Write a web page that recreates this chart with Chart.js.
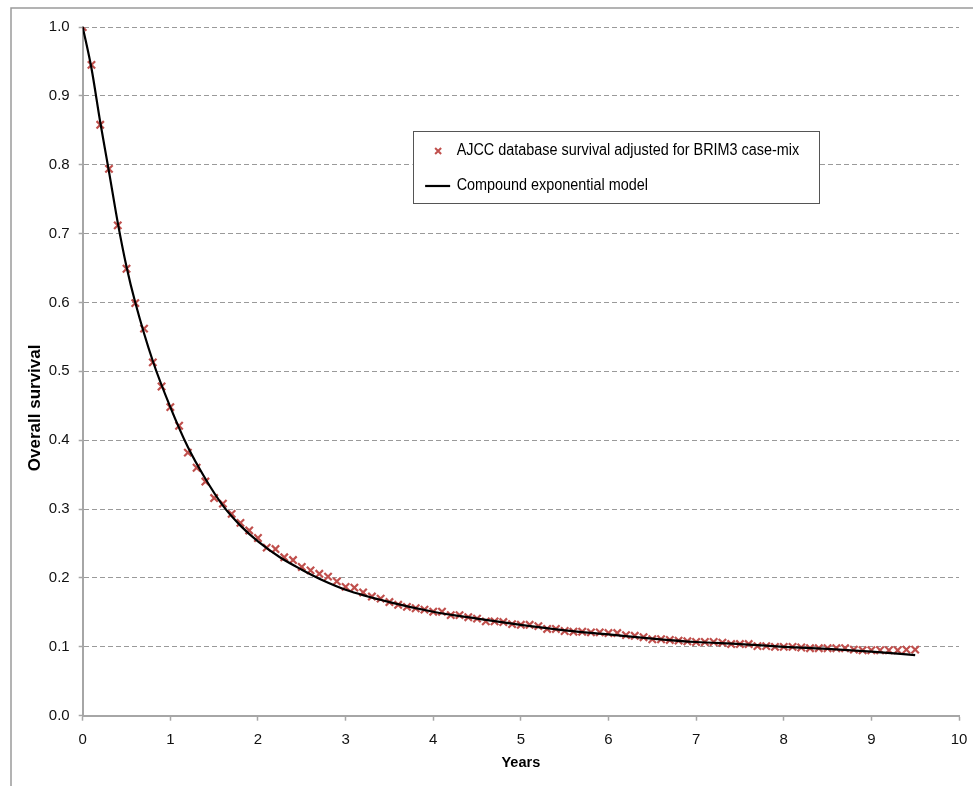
<!DOCTYPE html>
<html>
<head>
<meta charset="utf-8">
<script src="https://cdn.jsdelivr.net/npm/chart.js@4"></script>
<style>
  html, body { margin: 0; padding: 0; background: #fff; }
  #wrap { position: relative; width: 973px; height: 786px; }
</style>
</head>
<body>
<div id="wrap"><canvas id="c" width="973" height="786"></canvas></div>
<script>
// ---- data ----
const years = [0.0,0.1,0.2,0.3,0.4,0.5,0.6,0.7,0.8,0.9,
  1.0,1.1,1.2,1.3,1.4,1.5,1.6,1.7,1.8,1.9,
  2.0,2.1,2.2,2.3,2.4,2.5,2.6,2.7,2.8,2.9,
  3.0,3.1,3.2,3.3,3.4,3.5,3.6,3.7,3.8,3.9,
  4.0,4.1,4.2,4.3,4.4,4.5,4.6,4.7,4.8,4.9,
  5.0,5.1,5.2,5.3,5.4,5.5,5.6,5.7,5.8,5.9,
  6.0,6.1,6.2,6.3,6.4,6.5,6.6,6.7,6.8,6.9,
  7.0,7.1,7.2,7.3,7.4,7.5,7.6,7.7,7.8,7.9,
  8.0,8.1,8.2,8.3,8.4,8.5,8.6,8.7,8.8,8.9,
  9.0,9.1,9.2,9.3,9.4,9.5];
const ajccSurvival = [1.000,0.945,0.858,0.794,0.712,0.649,0.599,0.562,0.513,0.478,
  0.448,0.421,0.382,0.360,0.340,0.316,0.308,0.293,0.280,0.269,
  0.258,0.244,0.242,0.230,0.226,0.216,0.211,0.206,0.202,0.195,
  0.187,0.186,0.179,0.173,0.170,0.165,0.161,0.158,0.156,0.154,
  0.151,0.151,0.146,0.146,0.143,0.141,0.137,0.137,0.136,0.133,
  0.132,0.132,0.130,0.126,0.126,0.123,0.122,0.122,0.121,0.121,
  0.120,0.120,0.117,0.116,0.114,0.111,0.111,0.110,0.109,0.108,
  0.107,0.107,0.107,0.106,0.104,0.104,0.104,0.101,0.101,0.100,
  0.100,0.100,0.099,0.098,0.098,0.098,0.098,0.098,0.096,0.095,
  0.095,0.095,0.095,0.095,0.096,0.096];
const modelYears = [0,0.1,0.2,0.3,0.4,0.5,0.6,0.8,1.0,1.2,1.4,1.6,1.8,2.0,2.25,2.5,2.75,3.0,3.5,4.0,4.5,5.0,5.5,6.0,6.5,7.0,7.5,8.0,8.5,9.0,9.5];
const modelSurvival = [1.0,0.94,0.862,0.79,0.716,0.652,0.600,0.515,0.448,0.390,0.344,0.305,0.276,0.253,0.230,0.212,0.196,0.183,0.165,0.151,0.141,0.132,0.124,0.118,0.112,0.107,0.104,0.100,0.097,0.093,0.088];
const seriesNames = ['AJCC database survival adjusted for BRIM3 case-mix', 'Compound exponential model'];
const yTickValues = [0,0.1,0.2,0.3,0.4,0.5,0.6,0.7,0.8,0.9,1.0];
const xTitle = 'Years';
const yTitle = 'Overall survival';

// ---- styles ----
const markerColor = '#c0504d';
const axisGray = '#a6a6a6';
const gridGray = '#9a9a9a';
const FONT = '"Liberation Sans", Arial, sans-serif';

const pairs = (xs, ys) => xs.map((x, i) => ({ x: x, y: ys[i] }));

const framePlugin = {
  id: 'frame',
  beforeDraw(chart) {
    const ctx = chart.ctx;
    ctx.save();
    ctx.strokeStyle = '#9a9a9a';
    ctx.lineWidth = 1.5;
    ctx.beginPath();
    ctx.moveTo(11, chart.height);
    ctx.lineTo(11, 8);
    ctx.lineTo(chart.width, 8);
    ctx.stroke();
    ctx.restore();
  }
};

const yTitlePlugin = {
  id: 'yTitle',
  afterDraw(chart) {
    const ctx = chart.ctx, a = chart.chartArea;
    ctx.save();
    ctx.translate(35, a.top + 0.553 * (a.bottom - a.top));
    ctx.rotate(-Math.PI / 2);
    ctx.font = 'bold 17px ' + FONT;
    ctx.fillStyle = '#000';
    ctx.textAlign = 'center';
    ctx.textBaseline = 'middle';
    ctx.fillText(yTitle, 0, 0);
    ctx.restore();
  }
};

const legendPlugin = {
  id: 'boxLegend',
  afterDraw(chart) {
    const ctx = chart.ctx, a = chart.chartArea;
    const w = a.right - a.left, h = a.bottom - a.top;
    const L = a.left + 0.3765 * w, R = a.left + 0.840 * w;
    const T = a.top + 0.151 * h, B = a.top + 0.2555 * h;
    ctx.save();
    ctx.fillStyle = '#fff';
    ctx.fillRect(L, T, R - L, B - T);
    ctx.strokeStyle = '#555';
    ctx.lineWidth = 1;
    ctx.strokeRect(Math.round(L) + 0.5, Math.round(T) + 0.5, Math.round(R - L), Math.round(B - T));
    const y1 = T + 20, y2 = T + 55;
    // marker
    ctx.strokeStyle = markerColor;
    ctx.lineWidth = 2;
    const mx = L + 25.5, r = 3;
    ctx.beginPath();
    ctx.moveTo(mx - r, y1 - r); ctx.lineTo(mx + r, y1 + r);
    ctx.moveTo(mx + r, y1 - r); ctx.lineTo(mx - r, y1 + r);
    ctx.stroke();
    // line
    ctx.strokeStyle = '#000';
    ctx.lineWidth = 2.2;
    ctx.beginPath();
    ctx.moveTo(L + 12.5, y2); ctx.lineTo(L + 37.5, y2);
    ctx.stroke();
    // text
    ctx.fillStyle = '#000';
    ctx.font = '16px ' + FONT;
    ctx.textBaseline = 'middle';
    ctx.textAlign = 'left';
    [[seriesNames[0], y1], [seriesNames[1], y2]].forEach(([t, y]) => {
      ctx.save();
      ctx.translate(L + 44, y);
      ctx.scale(0.9, 1);
      ctx.fillText(t, 0, 0);
      ctx.restore();
    });
    ctx.restore();
  }
};

new Chart(document.getElementById('c'), {
  data: {
    datasets: [
      {
        type: 'line',
        label: seriesNames[1],
        data: pairs(modelYears, modelSurvival),
        borderColor: '#000',
        borderWidth: 2.2,
        pointRadius: 0,
        fill: false,
        cubicInterpolationMode: 'monotone',
        order: 0
      },
      {
        type: 'scatter',
        label: seriesNames[0],
        data: pairs(years, ajccSurvival),
        pointStyle: 'crossRot',
        pointRadius: 5.2,
        pointBorderWidth: 2.2,
        borderColor: markerColor,
        backgroundColor: markerColor,
        order: 1
      }
    ]
  },
  options: {
    responsive: false,
    animation: false,
    layout: { padding: { top: 27, right: 14, left: 0, bottom: 10 } },
    plugins: { legend: { display: false }, tooltip: { enabled: false } },
    scales: {
      x: {
        type: 'linear',
        min: 0, max: 10,
        afterFit(s) { s.height = 60.3; s.paddingLeft = 0; s.paddingRight = 0; },
        ticks: { stepSize: 1, color: '#111', padding: 10, font: { size: 15, family: FONT }, maxRotation: 0 },
        grid: { drawOnChartArea: false, drawTicks: true, tickLength: 5, tickColor: axisGray, tickWidth: 1.5 },
        border: { display: true, color: axisGray, width: 2 },
        title: { display: true, text: xTitle, color: '#000', font: { size: 14.5, weight: 'bold', family: FONT }, padding: { top: 4, bottom: 4 } }
      },
      y: {
        type: 'linear',
        min: 0, max: 1,
        afterFit(s) { s.width = 82.7; s.paddingTop = 0; s.paddingBottom = 0; },
        afterBuildTicks(s) { s.ticks = yTickValues.map(v => ({ value: v })); },
        ticks: { color: '#111', padding: 9, font: { size: 15, family: FONT }, callback: v => Number(v).toFixed(1) },
        grid: { color: gridGray, lineWidth: 1, drawTicks: true, tickLength: 4, tickColor: axisGray, tickWidth: 1.5, tickBorderDash: [] },
        border: { display: true, color: axisGray, width: 2, dash: [5, 3] }
      }
    }
  },
  plugins: [framePlugin, yTitlePlugin, legendPlugin]
});
</script>
</body>
</html>
